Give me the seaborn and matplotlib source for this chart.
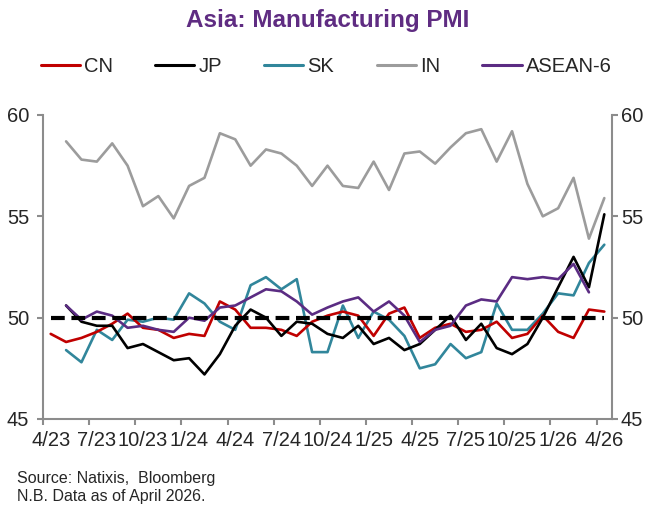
import numpy as np
import pandas as pd
import matplotlib
matplotlib.use("Agg")
import matplotlib.pyplot as plt
import matplotlib.transforms as mtransforms
import seaborn as sns
from matplotlib.lines import Line2D

# months from 4/23 (index 0) to 4/26 (index 36)
months = ['4/23', '5/23', '6/23', '7/23', '8/23', '9/23', '10/23', '11/23', '12/23',
          '1/24', '2/24', '3/24', '4/24', '5/24', '6/24', '7/24', '8/24', '9/24',
          '10/24', '11/24', '12/24', '1/25', '2/25', '3/25', '4/25', '5/25', '6/25',
          '7/25', '8/25', '9/25', '10/25', '11/25', '12/25', '1/26', '2/26', '3/26', '4/26']
tick_labels = months[::3]

nan = np.nan
cn = [49.2, 48.8, 49.0, 49.3, 49.7, 50.2, 49.5, 49.4, 49.0, 49.2, 49.1, 50.8, 50.4,
      49.5, 49.5, 49.4, 49.1, 49.8, 50.1, 50.3, 50.1, 49.1, 50.2, 50.5, 49.0, 49.5,
      49.7, 49.3, 49.4, 49.8, 49.0, 49.2, 50.1, 49.3, 49.0, 50.4, 50.3]
jp = [nan, 50.6, 49.8, 49.6, 49.6, 48.5, 48.7, 48.3, 47.9, 48.0, 47.2, 48.2, 49.6,
      50.4, 50.0, 49.1, 49.8, 49.7, 49.2, 49.0, 49.6, 48.7, 49.0, 48.4, 48.7, 49.4,
      50.1, 48.9, 49.7, 48.5, 48.2, 48.7, 50.0, 51.5, 53.0, 51.5, 55.1]
sk = [nan, 48.4, 47.8, 49.4, 48.9, 49.9, 49.8, 50.0, 49.9, 51.2, 50.7, 49.8, 49.4,
      51.6, 52.0, 51.4, 51.9, 48.3, 48.3, 50.6, 49.0, 50.3, 49.9, 49.1, 47.5, 47.7,
      48.7, 48.0, 48.3, 50.7, 49.4, 49.4, 50.2, 51.2, 51.1, 52.7, 53.6]
ind = [nan, 58.7, 57.8, 57.7, 58.6, 57.5, 55.5, 56.0, 54.9, 56.5, 56.9, 59.1, 58.8,
       57.5, 58.3, 58.1, 57.5, 56.5, 57.5, 56.5, 56.4, 57.7, 56.3, 58.1, 58.2, 57.6,
       58.4, 59.1, 59.3, 57.7, 59.2, 56.6, 55.0, 55.4, 56.9, 53.9, 55.9]
asean = [nan, 50.6, 49.9, 50.3, 50.1, 49.5, 49.6, 49.4, 49.3, 50.0, 49.85, 50.5, 50.6,
         51.0, 51.4, 51.3, 50.8, 50.15, 50.5, 50.8, 51.0, 50.3, 50.8, 50.1, 48.8, 49.4,
         49.6, 50.6, 50.9, 50.8, 52.0, 51.9, 52.0, 51.9, 52.65, 51.25, nan]
threshold = 50

series = {'CN': cn, 'JP': jp, 'SK': sk, 'IN': ind, 'ASEAN-6': asean}
colors = {'CN': '#C00000', 'JP': '#000000', 'SK': '#31869B', 'IN': '#9C9C9C',
          'ASEAN-6': '#5B2C83'}

rows = []
for name, vals in series.items():
    for i, v in enumerate(vals):
        if not np.isnan(v):
            rows.append({'month': i + 0.5, 'pmi': v, 'series': name})
df = pd.DataFrame(rows)

sns.set_style('white')
plt.rcParams['font.family'] = ['Liberation Sans', 'DejaVu Sans']

fig = plt.figure(figsize=(6.56, 5.21), dpi=100)
ax = fig.add_axes([43 / 656, 1 - 419 / 521, 569 / 656, 304 / 521])

# gray first so the others sit on top
order = ['IN', 'SK', 'CN', 'JP', 'ASEAN-6']
for name in order:
    sns.lineplot(data=df[df['series'] == name], x='month', y='pmi', color=colors[name],
                 linewidth=1.9, ax=ax, legend=False)

ax.hlines(threshold, 0.5, len(months) - 0.5, colors='black', linewidth=3,
          linestyles=(0, (3.3, 1.6)), zorder=5)

ax.set_xlim(0, 37)
ax.set_ylim(45, 60)
ax.set_yticks([45, 50, 55, 60])
ax.set_xticks(range(0, 37, 3))
ax.set_xticklabels([])
ax.set_xticks([i + 0.5 for i in range(0, 37, 3)], minor=True)
ax.set_xticklabels(tick_labels, minor=True)
ax.set_xlabel('')
ax.set_ylabel('')

gray = '#8C8C8C'
for side in ['left', 'right', 'bottom']:
    ax.spines[side].set_color(gray)
    ax.spines[side].set_linewidth(1.5)
ax.spines['top'].set_visible(False)
ax.tick_params(axis='y', which='major', left=True, right=True, labelright=True,
               direction='out', length=4, width=1.5, color=gray, labelsize=14.5, pad=6)
ax.tick_params(axis='x', which='major', bottom=True, direction='out', length=4,
               width=1.5, color=gray)
ax.tick_params(axis='x', which='minor', bottom=True, length=0, labelsize=14.5, pad=9)

# right-hand labels sit a little closer to the axis
shift = mtransforms.ScaledTranslation(-5 / 100, 0, fig.dpi_scale_trans)
for t in ax.yaxis.get_major_ticks():
    t.label2.set_transform(t.label2.get_transform() + shift)

fig.text(0.5, 1 - 21 / 521, 'Asia: Manufacturing PMI', ha='center', va='center',
         fontsize=17.5, fontweight='bold', color='#5F2C82')

handles = [Line2D([0], [0], color=colors[n], linewidth=2.2) for n in series]
fig.legend(handles, list(series.keys()), loc='center', bbox_to_anchor=(326 / 656, 1 - 67 / 521),
           ncol=5, frameon=False, fontsize=14.5, handlelength=1.95, handletextpad=0.2,
           columnspacing=2.1)

fig.text(17 / 656, 1 - 478 / 521, 'Source: Natixis,  Bloomberg', ha='left', va='center',
         fontsize=11.5)
fig.text(17 / 656, 1 - 496 / 521, 'N.B. Data as of April 2026.', ha='left', va='center',
         fontsize=11.5)

fig.savefig('out.png', dpi=100)
